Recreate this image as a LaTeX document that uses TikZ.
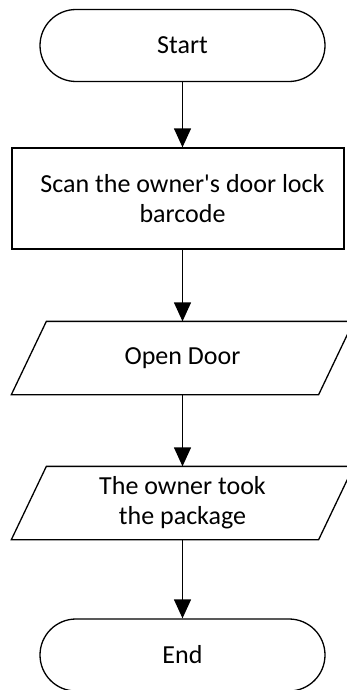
\documentclass[tikz,border=0pt]{standalone}
\usepackage{fontspec}
\setmainfont{Carlito}[Ligatures=TeXOff]
\usetikzlibrary{arrows.meta}
\begin{document}
\begin{tikzpicture}[x=1pt,y=1pt,line width=1.3pt,
  txt/.style={font=\fontsize{26}{30}\selectfont, align=center, inner sep=0pt},
  term/.style={txt, draw, rectangle, rounded corners=36pt, minimum width=285pt, minimum height=72pt},
  procbox/.style={draw, rectangle, minimum width=332pt, minimum height=101pt, inner sep=0pt},
  iobox/.style={txt, minimum width=306pt, minimum height=72pt},
  arr/.style={-{Triangle[length=19pt,width=17pt]}}]
\useasboundingbox (0,0) rectangle (346,-690);
\node[term] (start) at (182.5,-45.5) {Start};
\node[procbox] (scan) at (178,-198.5) {};
\node[txt] (scantext) at (182.5,-199) {Scan the owner's door lock\\barcode};
\node[iobox] (open) at (182.5,-358) {Open Door};
\draw ([xshift=-17.5pt]open.south west) -- ([xshift=17.5pt]open.north west) -- ([xshift=17.5pt]open.north east) -- ([xshift=-17.5pt]open.south east) -- cycle;
\node[iobox] (took) at (182.5,-503) {The owner took\\the package};
\draw ([xshift=-17.5pt]took.south west) -- ([xshift=17.5pt]took.north west) -- ([xshift=17.5pt]took.north east) -- ([xshift=-17.5pt]took.south east) -- cycle;
\node[term] (end) at (182.5,-655) {End};
\draw[arr] (start.south) -- (start.south |- scan.north);
\draw[arr] (start.south |- scan.south) -- (open.north);
\draw[arr] (open.south) -- (took.north);
\draw[arr] (took.south) -- (end.north);
\end{tikzpicture}
\end{document}
